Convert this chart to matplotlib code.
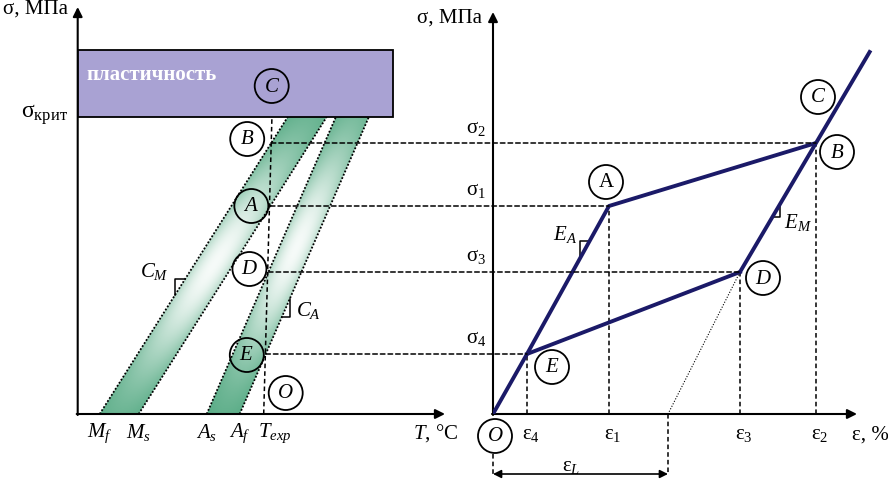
import numpy as np
import matplotlib.pyplot as plt
from matplotlib.patches import Circle, Rectangle, Polygon, ConnectionPatch

plt.rcParams['font.family'] = ['Liberation Serif', 'DejaVu Serif']
plt.rcParams['mathtext.fontset'] = 'custom'
plt.rcParams['mathtext.rm'] = 'Liberation Serif'
plt.rcParams['mathtext.it'] = 'Liberation Serif:italic'

# stress levels, shared by both panels (points B, A, D, E)
sig_names = ['σ$_2$', 'σ$_1$', 'σ$_3$', 'σ$_4$']
pt_names = ['B', 'A', 'D', 'E']
sig_vals = [271, 208, 142, 60]
sig_crit = 297
sig_top = 364

# left panel: transformation temperatures and band slopes
T_names = ['$M_f$', '$M_s$', '$A_s$', '$A_f$']
T_vals = [22, 61, 129, 162]
T_exp = 186
C_M = 1.58
C_A = 2.30
T_plast = 315

# right panel: strains at B, A, D, E
eps_names = ['ε$_2$', 'ε$_1$', 'ε$_3$', 'ε$_4$']
eps_vals = [323, 116, 247, 34]
eps_L = 175
sig_C = 362

navy = '#1b1a68'
green = np.array([0.30, 0.65, 0.49])
W, H = 888, 481

fig = plt.figure(figsize=(W / 100, H / 100), dpi=100)
axL = fig.add_axes([77.7 / W, (H - 415) / H, 367.3 / W, 407 / H])
axR = fig.add_axes([493 / W, (H - 415) / H, 395 / W, 402 / H])
for ax in (axL, axR):
    ax.axis('off')

ar = dict(arrowstyle='-|>', color='black', lw=1.5, mutation_scale=14, shrinkA=0, shrinkB=0)
axL.annotate('', xy=(0, 407), xytext=(0, -1), arrowprops=ar, annotation_clip=False)
axL.annotate('', xy=(367.3, 0), xytext=(-1, 0), arrowprops=ar, annotation_clip=False)
axR.annotate('', xy=(0, 402), xytext=(0, -1), arrowprops=ar, annotation_clip=False)
axR.annotate('', xy=(364, 0), xytext=(-1, 0), arrowprops=ar, annotation_clip=False)

dash = (0, (3, 2))
dot = (0, (1, 1))

# ---- left panel ----
axL.add_patch(Rectangle((0, sig_crit), T_plast, sig_top - sig_crit, facecolor='#a9a2d3',
                        edgecolor='black', lw=1.3, zorder=3))
axL.text(9, 340, 'пластичность', color='white', fontsize=15, fontweight='bold',
         ha='left', va='center', zorder=4)

slopes = [C_M, C_M, C_A, C_A]
centers = [150, 165]
for b in range(2):
    t0, t1, C = T_vals[2 * b], T_vals[2 * b + 1], slopes[2 * b]
    poly = [(t0, 0), (t1, 0), (t1 + sig_crit / C, sig_crit), (t0 + sig_crit / C, sig_crit)]
    x0, x1 = t0, t1 + sig_crit / C
    xs = np.linspace(x0, x1, 300)
    ys = np.linspace(0, sig_crit, 300)
    X, Y = np.meshgrid(xs, ys)
    u = np.clip((X - (t0 + Y / C)) / (t1 - t0), 0, 1)
    w = 0.95 * np.exp(-((Y - centers[b]) / 115) ** 2) * (1 - 0.35 * (2 * u - 1) ** 2)
    w = np.clip(w, 0, 1)[..., None]
    img = green * (1 - w) + np.array([1, 1, 1]) * w
    im = axL.imshow(img, extent=[x0, x1, 0, sig_crit], origin='lower', aspect='auto', zorder=1)
    pg = Polygon(poly, closed=True, facecolor='none', edgecolor='none')
    axL.add_patch(pg)
    im.set_clip_path(pg)
    for t in (t0, t1):
        axL.plot([t, t + sig_crit / C], [0, sig_crit], color='black', ls=dot, lw=1.3, zorder=2)
axL.set_xlim(0, 367.3)
axL.set_ylim(0, 407)
axR.set_xlim(0, 395)
axR.set_ylim(0, 402)

# points where T_exp crosses the band edges
T_pts = [T_vals[i] + sig_vals[i] / slopes[i] for i in range(4)]
top_T = T_exp + (T_pts[0] - T_exp) * sig_crit / sig_vals[0]
axL.plot([T_exp, top_T], [0, sig_crit], color='black', ls=dash, lw=1.1, zorder=2)

for i in range(4):
    con = ConnectionPatch(xyA=(T_pts[i], sig_vals[i]), coordsA=axL.transData,
                          xyB=(eps_vals[i], sig_vals[i]), coordsB=axR.transData,
                          color='black', ls=dash, lw=1.1)
    fig.add_artist(con)

r = 17
circ_L = [(-24, 4), (-19, 0), (-19, 3), (-19, -1)]
for i in range(4):
    cx, cy = T_pts[i] + circ_L[i][0], sig_vals[i] + circ_L[i][1]
    axL.add_patch(Circle((cx, cy), r, facecolor='none', edgecolor='black', lw=1.3, zorder=5))
    axL.text(cx, cy, '$' + pt_names[i] + '$', fontsize=15, ha='center', va='center', zorder=5)
for name, (cx, cy) in [('O', (T_exp + 22, 21)), ('C', (194, 328))]:
    axL.add_patch(Circle((cx, cy), r, facecolor='none', edgecolor='black', lw=1.3, zorder=5))
    axL.text(cx, cy, '$' + name + '$', fontsize=15, ha='center', va='center', zorder=5)

for name, t in zip(T_names, T_vals):
    axL.text(t, -18, name, fontsize=15, ha='center', va='center')
axL.text(T_exp - 6, -18, '$T_{exp}$', fontsize=15, ha='left', va='center')
axL.text(335, -18, '$T$, °C', fontsize=15, ha='left', va='center')
axL.text(-10, 406, 'σ, МПа', fontsize=15, ha='right', va='center')
axL.text(-10, 300, 'σ$_{\\mathrm{крит}}$', fontsize=17, ha='right', va='center')

# slope marks C_M and C_A
s1 = 135
e1 = T_vals[0] + s1 / C_M
axL.plot([e1, e1 - 10, e1 - 10], [s1, s1, (e1 - 10 - T_vals[0]) * C_M], color='black', lw=1.1)
axL.text(77, 143, '$C_M$', fontsize=15, ha='center', va='center')
s2 = 97
e2 = T_vals[3] + s2 / C_A
axL.plot([e2, e2 + 8, e2 + 8], [s2, s2, (e2 + 8 - T_vals[3]) * C_A], color='black', lw=1.1)
axL.text(218, 104, '$C_A$', fontsize=15, ha='left', va='center')

# ---- right panel ----
eB, eA, eD, eE = eps_vals
sB, sA, sD, sE = sig_vals
E_M = (sB - sD) / (eB - eD)
eC = eB + (sig_C - sB) / E_M
axR.plot([0, eE, eA, eB], [0, sE, sA, sB], color=navy, lw=2.8, solid_capstyle='butt', zorder=4)
axR.plot([eD, eB, eC], [sD, sB, sig_C], color=navy, lw=2.8, zorder=4, clip_on=False)
axR.plot([eD, eE], [sD, sE], color=navy, lw=2.8, zorder=4)
axR.plot([eD, eps_L], [sD, 0], color='black', ls=(0, (1, 1.5)), lw=0.8)

for e, s in zip(eps_vals, sig_vals):
    axR.plot([e, e], [0, s], color='black', ls=dash, lw=1.1)
for name, e in zip(eps_names, eps_vals):
    axR.text(e + 4, -20, name, fontsize=15, ha='center', va='center')
for name, s in zip(sig_names, sig_vals):
    axR.text(-7, s + 16, name, fontsize=15, ha='right', va='center')
axR.text(359, -20, 'ε, %', fontsize=15, ha='left', va='center')
axR.text(-11, 397, 'σ, МПа', fontsize=15, ha='right', va='center')

circ_R = [(21, -9), (-3, 24), (23, -6), (25, -13)]
for i in range(4):
    cx, cy = eps_vals[i] + circ_R[i][0], sig_vals[i] + circ_R[i][1]
    lab = 'A' if pt_names[i] == 'A' else '$' + pt_names[i] + '$'
    axR.add_patch(Circle((cx, cy), r, facecolor='white', edgecolor='black', lw=1.3, zorder=5,
                         clip_on=False))
    axR.text(cx, cy, lab, fontsize=15, ha='center', va='center', zorder=6)
for name, (cx, cy) in [('O', (2, -22)), ('C', (eB + 2, sB + 46))]:
    axR.add_patch(Circle((cx, cy), r, facecolor='white', edgecolor='black', lw=1.3, zorder=5,
                         clip_on=False))
    axR.text(cx, cy, '$' + name + '$', fontsize=15, ha='center', va='center', zorder=6)

# slope marks E_A and E_M
E_A = sA / eA
s3 = 173
e3 = s3 / E_A
axR.plot([e3, e3 - 9, e3 - 9], [s3, s3, (e3 - 9) * E_A], color='black', lw=1.1)
axR.text(84, 180, '$E_A$', fontsize=15, ha='right', va='center')
s4 = 210
e4 = eD + (s4 - sD) / E_M
s5 = 197
axR.plot([e4, e4, eD + (s5 - sD) / E_M], [s4, s5, s5], color='black', lw=1.1)
axR.text(291, 192, '$E_M$', fontsize=15, ha='left', va='center')

# residual strain eps_L
axR.plot([eps_L, eps_L], [0, -60], color='black', ls=dash, lw=1.1, clip_on=False)
axR.plot([0, 0], [-40, -60], color='black', ls=dash, lw=1.1, clip_on=False)
axR.annotate('', xy=(eps_L, -60), xytext=(0, -60),
             arrowprops=dict(arrowstyle='<|-|>', color='black', lw=1.2, mutation_scale=12,
                             shrinkA=0, shrinkB=0), annotation_clip=False)
axR.text(78, -52, 'ε$_L$', fontsize=15, ha='center', va='center')

fig.savefig('out.png', dpi=100)
